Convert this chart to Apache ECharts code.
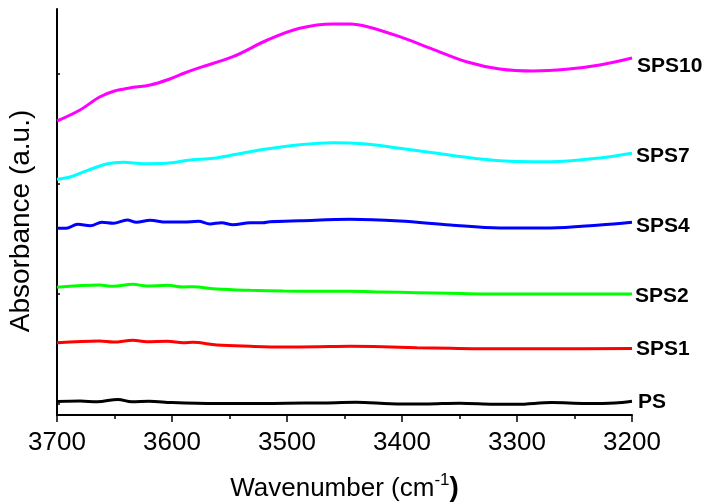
<!DOCTYPE html>
<html>
<head>
<meta charset="utf-8">
<script src="https://cdn.jsdelivr.net/npm/echarts@6/dist/echarts.min.js"></script>
<style>html,body{margin:0;padding:0;background:#fff}#c{width:704px;height:504px}</style>
</head>
<body>
<div id="c"></div>
<script>
// ---- data (wavenumber in cm-1, absorbance in a.u., offset-stacked) ----
const seriesNames = ['PS', 'SPS1', 'SPS2', 'SPS4', 'SPS7', 'SPS10'];

const psWn  = [3700,3680,3665,3647,3635,3620,3600,3560,3530,3500,3470,3440,3410,3380,3350,3320,3300,3270,3240,3215,3200];
const psAbs = [0.135,0.14,0.132,0.156,0.132,0.137,0.125,0.115,0.114,0.118,0.12,0.127,0.113,0.11,0.118,0.108,0.107,0.124,0.115,0.12,0.137];

const sps1Wn  = [3700,3663,3651,3634,3622,3604,3590,3582,3561,3532,3503,3474,3445,3417,3387,3358,3330,3271,3200];
const sps1Abs = [0.723,0.74,0.73,0.747,0.733,0.737,0.723,0.727,0.70,0.687,0.68,0.683,0.687,0.683,0.673,0.667,0.663,0.663,0.665];

const sps2Wn  = [3700,3663,3651,3634,3622,3604,3590,3582,3561,3532,3503,3474,3445,3417,3387,3358,3330,3271,3200];
const sps2Abs = [1.277,1.30,1.287,1.307,1.29,1.297,1.28,1.283,1.26,1.247,1.24,1.237,1.237,1.23,1.223,1.217,1.21,1.21,1.21];

const sps4Wn  = [3700,3692,3682,3671,3661,3651,3639,3631,3619,3605,3590,3577,3567,3557,3547,3532,3521,3515,3489,3445,3402,3358,3315,3271,3228,3200];
const sps4Abs = [1.867,1.867,1.907,1.893,1.927,1.917,1.95,1.927,1.947,1.93,1.93,1.937,1.91,1.923,1.903,1.923,1.923,1.933,1.943,1.957,1.94,1.90,1.87,1.87,1.90,1.927];

const sps7Wn  = [3700,3688,3674,3657,3642,3625,3605,3584,3564,3544,3518,3489,3460,3431,3402,3373,3344,3315,3286,3271,3228,3200];
const sps7Abs = [2.357,2.383,2.443,2.51,2.527,2.513,2.517,2.55,2.567,2.607,2.66,2.703,2.723,2.71,2.667,2.623,2.577,2.543,2.533,2.533,2.57,2.617];

const sps10Wn  = [3700,3680,3663,3650,3637,3619,3602,3589,3576,3547,3517,3489,3460,3445,3430,3402,3373,3344,3315,3286,3257,3228,3200];
const sps10Abs = [2.94,3.05,3.18,3.24,3.27,3.30,3.36,3.42,3.473,3.583,3.75,3.867,3.91,3.91,3.883,3.783,3.657,3.533,3.46,3.44,3.457,3.50,3.57];

const xTicks = [3700, 3600, 3500, 3400, 3300, 3200];
const yTickValues = [0.11, 1.21, 2.31, 3.417];

const seriesColors = ['#000000', '#ff0000', '#00ff00', '#0000ff', '#00ffff', '#ff00ff'];
const labelOffsets = [[6, 1], [4, 1], [3, 2], [4, 4], [4, 3], [5, 8]];

const wnSets = [psWn, sps1Wn, sps2Wn, sps4Wn, sps7Wn, sps10Wn];
const absSets = [psAbs, sps1Abs, sps2Abs, sps4Abs, sps7Abs, sps10Abs];

const SANS = "'Liberation Sans', Arial, sans-serif";

const chart = echarts.init(document.getElementById('c'), null, { renderer: 'canvas' });

const series = seriesNames.map((name, i) => ({
  name: name,
  type: 'line',
  data: wnSets[i].map((w, k) => [w, absSets[i][k]]),
  smooth: 0.35,
  showSymbol: false,
  symbol: 'none',
  lineStyle: { color: seriesColors[i], width: 3 },
  itemStyle: { color: seriesColors[i] },
  animation: false,
  endLabel: {
    show: true,
    formatter: '{a}',
    color: '#000',
    fontFamily: SANS,
    fontWeight: 'bold',
    fontSize: 21,
    align: 'left',
    verticalAlign: 'middle',
    distance: 0,
    offset: labelOffsets[i]
  }
}));

chart.setOption({
  animation: false,
  backgroundColor: '#fff',
  grid: { left: 57, right: 72, top: 9, bottom: 89, containLabel: false, outerBoundsMode: 'none' },
  xAxis: {
    type: 'value',
    min: 3200, max: 3700, interval: 100,
    inverse: true,
    name: '{n|Wavenumber (cm}{s|-1}{p|)}',
    nameLocation: 'middle',
    nameGap: 57,
    nameTextStyle: {
      color: '#000',
      rich: {
        n: { fontSize: 26, fontFamily: SANS, color: '#000', lineHeight: 30, verticalAlign: 'bottom' },
        s: { fontSize: 17, fontFamily: SANS, color: '#000', lineHeight: 17, verticalAlign: 'top' },
        p: { fontSize: 28, fontFamily: SANS, fontWeight: 'bold', color: '#000', lineHeight: 30, verticalAlign: 'bottom' }
      }
    },
    axisLine: { show: true, onZero: false, lineStyle: { color: '#000', width: 2 } },
    axisTick: { show: true, inside: false, length: 7, lineStyle: { color: '#000', width: 1.5 } },
    minorTick: { show: true, splitNumber: 2, length: 4, lineStyle: { color: '#000', width: 1.5 } },
    splitLine: { show: false },
    minorSplitLine: { show: false },
    axisLabel: {
      color: '#000', fontSize: 26, fontFamily: SANS, margin: 15,
      formatter: v => (xTicks.indexOf(v) >= 0 ? String(v) : '')
    }
  },
  yAxis: {
    type: 'value',
    min: 0, max: 4.06,
    name: 'Absorbance (a.u.)',
    nameLocation: 'middle',
    nameGap: 22,
    nameTextStyle: { color: '#000', fontSize: 28, fontFamily: SANS, padding: [0, 18, 0, 0] },
    axisLine: { show: true, onZero: false, lineStyle: { color: '#000', width: 2 } },
    axisTick: { show: true, inside: true, length: 3, customValues: yTickValues, lineStyle: { color: '#000', width: 1.5 } },
    axisLabel: { show: false },
    splitLine: { show: false }
  },
  series: series
});
</script>
</body>
</html>
